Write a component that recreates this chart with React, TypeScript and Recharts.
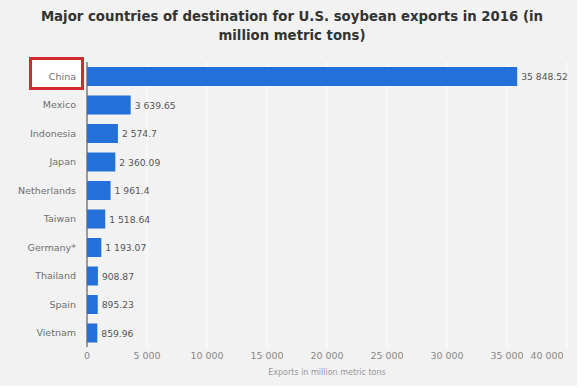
import { Bar, BarChart, CartesianGrid, LabelList, XAxis, YAxis } from "recharts";

const countries = ["China", "Mexico", "Indonesia", "Japan", "Netherlands", "Taiwan", "Germany*", "Thailand", "Spain", "Vietnam"];
const exportsValues = [35848.52, 3639.65, 2574.7, 2360.09, 1961.4, 1518.64, 1193.07, 908.87, 895.23, 859.96];
const xTicks = [0, 5000, 10000, 15000, 20000, 25000, 30000, 35000, 40000];

const data = countries.map((name, i) => ({ name, value: exportsValues[i] }));

const FONT = "'DejaVu Sans', sans-serif";

function spaced(value: number | string) {
  const [intPart, dec] = String(value).split(".");
  const grouped = intPart.replace(/\B(?=(\d{3})+(?!\d))/g, " ");
  return dec ? `${grouped}.${dec}` : grouped;
}

function XTick({ x, y, payload }: any) {
  // last tick is pulled in so it stays inside the frame
  const dx = payload.value === 40000 ? -17 : 0;
  return (
    <text x={x + dx} y={y + 4} textAnchor="middle" fill="#888" fontSize={9.5} fontFamily={FONT}>
      {spaced(payload.value)}
    </text>
  );
}

function YTick({ x, y, payload }: any) {
  return (
    <text x={x} y={y} dy={3.5} textAnchor="end" fill="#6f6f6f" fontSize={9.5} fontFamily={FONT}>
      {payload.value}
    </text>
  );
}

function ValueLabel({ x, y, width, height, value }: any) {
  return (
    <text x={x + width + 4} y={y + height / 2} dy={3.5} fill="#555" fontSize={9.2} fontFamily={FONT}>
      {spaced(value)}
    </text>
  );
}

export default function App() {
  return (
    <div style={{ position: "fixed", left: 0, top: 0, width: 584, height: 388, background: "#fff" }}>
      <div style={{ position: "absolute", left: 0, top: 0, width: 577, height: 386, background: "#f2f2f2" }}>
        <div
          style={{
            position: "absolute",
            top: 7,
            left: 0,
            width: 584,
            textAlign: "center",
            fontFamily: FONT,
            fontWeight: "bold",
            fontSize: 13.3,
            lineHeight: "19px",
            color: "#333",
          }}
        >
          Major countries of destination for U.S. soybean exports in 2016 (in
          <br />
          million metric tons)
        </div>
        <div
          style={{
            position: "absolute",
            left: 29,
            top: 57,
            width: 49,
            height: 27,
            border: "3px solid #d42a2f",
            background: "#fff",
          }}
        />
        <div style={{ position: "absolute", top: 50, left: 0 }}>
          <BarChart
            width={584}
            height={338}
            data={data}
            layout="vertical"
            margin={{ top: 12, right: 17, bottom: 11, left: 0 }}
            barSize={19}
          >
            <CartesianGrid horizontal={false} stroke="#ffffff" strokeWidth={1} />
            <XAxis
              type="number"
              domain={[0, 40000]}
              ticks={xTicks}
              axisLine={false}
              tickLine={false}
              tick={<XTick />}
              height={30}
              label={{ value: "Exports in million metric tons", position: "insideBottom", offset: 2, fill: "#999", fontSize: 8, fontFamily: FONT }}
            />
            <YAxis
              type="category"
              dataKey="name"
              width={87}
              axisLine={{ stroke: "#666", strokeWidth: 1.3 }}
              tickLine={false}
              tick={<YTick />}
              tickMargin={5}
            />
            <Bar dataKey="value" fill="#2270d8" isAnimationActive={false}>
              <LabelList dataKey="value" content={<ValueLabel />} />
            </Bar>
          </BarChart>
        </div>
      </div>
    </div>
  );
}
